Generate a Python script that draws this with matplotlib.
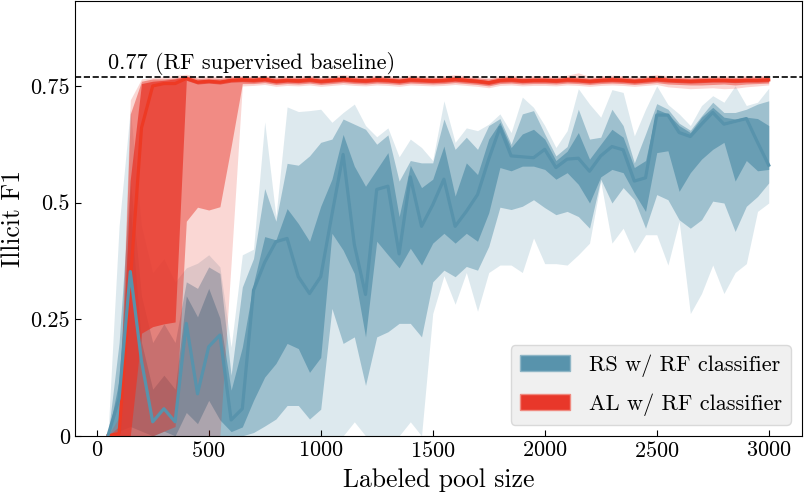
import matplotlib
matplotlib.use('Agg')
import matplotlib.pyplot as plt
from matplotlib.patches import Patch

plt.rcParams['font.family'] = 'serif'
plt.rcParams['font.serif'] = ['cmr10']
plt.rcParams['mathtext.fontset'] = 'cm'
plt.rcParams['axes.formatter.use_mathtext'] = True

# labeled pool sizes
pool_size = list(range(50, 3050, 50))

# RS w/ RF classifier: median and three quantile bands
rs_median = [0.0, 0.08, 0.352, 0.16, 0.03, 0.058, 0.03, 0.241, 0.09, 0.191, 0.216, 0.034,
             0.058, 0.312, 0.372, 0.416, 0.423, 0.341, 0.305, 0.341, 0.474, 0.603, 0.41, 0.303,
             0.528, 0.535, 0.39, 0.555, 0.449, 0.495, 0.55, 0.449, 0.481, 0.517, 0.593, 0.661,
             0.60, 0.598, 0.596, 0.614, 0.575, 0.593, 0.595, 0.567, 0.60, 0.62, 0.613, 0.546,
             0.553, 0.6875, 0.6875, 0.65, 0.6415, 0.668, 0.693, 0.668, 0.674, 0.68, 0.629, 0.58]
rs_dark_hi = [0.0, 0.12, 0.49, 0.2, 0.1, 0.13, 0.1, 0.30, 0.255, 0.316, 0.252, 0.098,
              0.19, 0.327, 0.427, 0.42, 0.487, 0.455, 0.417, 0.492, 0.55, 0.646, 0.578, 0.535,
              0.571, 0.607, 0.47, 0.58, 0.532, 0.55, 0.621, 0.514, 0.585, 0.56, 0.636, 0.672,
              0.618, 0.647, 0.657, 0.636, 0.59, 0.61, 0.65, 0.593, 0.625, 0.657, 0.64, 0.575,
              0.59, 0.70, 0.69, 0.665, 0.65, 0.683, 0.704, 0.683, 0.679, 0.683, 0.68, 0.665]
rs_dark_lo = [0.0, 0.01, 0.02, 0.01, 0.0, 0.01, 0.0, 0.05, 0.026, 0.076, 0.034, 0.009,
              0.019, 0.076, 0.126, 0.155, 0.198, 0.187, 0.136, 0.168, 0.434, 0.398, 0.348, 0.212,
              0.417, 0.388, 0.36, 0.402, 0.366, 0.413, 0.434, 0.413, 0.434, 0.417, 0.478, 0.575,
              0.568, 0.578, 0.578, 0.571, 0.55, 0.564, 0.539, 0.499, 0.555, 0.571, 0.564, 0.52,
              0.481, 0.607, 0.611, 0.524, 0.564, 0.593, 0.614, 0.629, 0.546, 0.59, 0.568, 0.571]
rs_mid_hi = [0.0, 0.2, 0.55, 0.3, 0.2, 0.24, 0.2, 0.33, 0.316, 0.362, 0.348, 0.13,
             0.319, 0.38, 0.53, 0.46, 0.584, 0.58, 0.6, 0.629, 0.636, 0.679, 0.668, 0.657,
             0.625, 0.645, 0.546, 0.59, 0.585, 0.585, 0.679, 0.614, 0.64, 0.614, 0.665, 0.68,
             0.625, 0.69, 0.697, 0.647, 0.60, 0.62, 0.70, 0.636, 0.64, 0.70, 0.665, 0.585,
             0.647, 0.712, 0.70, 0.67, 0.655, 0.686, 0.715, 0.693, 0.693, 0.70, 0.711, 0.718]
rs_mid_lo = [0.0, 0.0, 0.0, 0.0, 0.0, 0.0, 0.0, 0.0, 0.0, 0.0, 0.0, 0.0,
             0.0, 0.007, 0.021, 0.036, 0.065, 0.065, 0.036, 0.057, 0.273, 0.198, 0.212, 0.108,
             0.212, 0.223, 0.241, 0.241, 0.212, 0.33, 0.355, 0.341, 0.363, 0.355, 0.406, 0.49,
             0.485, 0.492, 0.506, 0.489, 0.474, 0.481, 0.47, 0.445, 0.55, 0.499, 0.532, 0.506,
             0.445, 0.517, 0.506, 0.463, 0.445, 0.463, 0.503, 0.499, 0.438, 0.492, 0.513, 0.542]
rs_lt_hi = [0.0, 0.45, 0.70, 0.45, 0.35, 0.38, 0.33, 0.36, 0.37, 0.388, 0.362, 0.19,
            0.388, 0.40, 0.673, 0.47, 0.705, 0.695, 0.697, 0.70, 0.672, 0.693, 0.711, 0.665,
            0.641, 0.66, 0.598, 0.636, 0.618, 0.59, 0.718, 0.629, 0.66, 0.654, 0.668, 0.69,
            0.65, 0.726, 0.704, 0.665, 0.618, 0.654, 0.744, 0.711, 0.683, 0.742, 0.736, 0.643,
            0.70, 0.75, 0.71, 0.69, 0.665, 0.708, 0.729, 0.715, 0.75, 0.708, 0.715, 0.745]
rs_lt_lo = [0.0, 0.0, 0.0, 0.0, 0.0, 0.0, 0.0, 0.0, 0.0, 0.0, 0.0, 0.0,
            0.0, 0.0, 0.0, 0.0, 0.0, 0.0, 0.0, 0.0, 0.0, 0.0, 0.03, 0.0,
            0.0, 0.0, 0.0, 0.03, 0.0, 0.262, 0.343, 0.282, 0.35, 0.267, 0.35, 0.366,
            0.366, 0.35, 0.424, 0.369, 0.369, 0.366, 0.388, 0.413, 0.545, 0.413, 0.445, 0.392,
            0.431, 0.431, 0.366, 0.46, 0.262, 0.305, 0.366, 0.305, 0.35, 0.369, 0.481, 0.499]

# AL w/ RF classifier: median and three quantile bands
al_median = [0.0, 0.005, 0.33, 0.66, 0.75, 0.755, 0.755, 0.766, 0.758, 0.76, 0.758, 0.762,
             0.763, 0.762, 0.764, 0.76, 0.762, 0.761, 0.763, 0.76, 0.762, 0.764, 0.762, 0.761,
             0.763, 0.762, 0.76, 0.763, 0.762, 0.761, 0.762, 0.764, 0.762, 0.76, 0.757, 0.762,
             0.763, 0.761, 0.762, 0.762, 0.761, 0.763, 0.762, 0.76, 0.762, 0.763, 0.762, 0.76,
             0.762, 0.764, 0.762, 0.761, 0.76, 0.761, 0.762, 0.762, 0.761, 0.762, 0.762, 0.763]
al_dark_hi = [0.0, 0.01, 0.55, 0.755, 0.76, 0.762, 0.765, 0.77, 0.762, 0.764, 0.762, 0.766,
              0.767, 0.766, 0.768, 0.764, 0.766, 0.765, 0.767, 0.764, 0.766, 0.768, 0.766, 0.765,
              0.767, 0.766, 0.764, 0.767, 0.766, 0.765, 0.766, 0.768, 0.766, 0.764, 0.761, 0.766,
              0.767, 0.765, 0.766, 0.766, 0.765, 0.767, 0.766, 0.764, 0.766, 0.767, 0.766, 0.764,
              0.766, 0.768, 0.766, 0.765, 0.764, 0.765, 0.766, 0.766, 0.765, 0.766, 0.766, 0.767]
al_dark_lo = [0.0, 0.0, 0.0, 0.22, 0.234, 0.24, 0.244, 0.762, 0.754, 0.756, 0.754, 0.758,
              0.759, 0.758, 0.76, 0.756, 0.758, 0.757, 0.759, 0.756, 0.758, 0.76, 0.758, 0.757,
              0.759, 0.758, 0.756, 0.759, 0.758, 0.757, 0.758, 0.76, 0.758, 0.756, 0.753, 0.758,
              0.759, 0.757, 0.758, 0.758, 0.757, 0.759, 0.758, 0.756, 0.758, 0.759, 0.758, 0.756,
              0.758, 0.76, 0.758, 0.757, 0.756, 0.757, 0.758, 0.758, 0.757, 0.758, 0.758, 0.759]
al_mid_hi = [0.0, 0.02, 0.69, 0.76, 0.765, 0.765, 0.767, 0.772, 0.766, 0.767, 0.766, 0.769,
             0.77, 0.769, 0.771, 0.767, 0.769, 0.768, 0.77, 0.767, 0.769, 0.771, 0.769, 0.768,
             0.77, 0.769, 0.767, 0.77, 0.769, 0.768, 0.769, 0.771, 0.769, 0.767, 0.765, 0.769,
             0.77, 0.768, 0.769, 0.769, 0.768, 0.77, 0.769, 0.767, 0.769, 0.77, 0.769, 0.767,
             0.769, 0.771, 0.769, 0.768, 0.767, 0.768, 0.769, 0.769, 0.768, 0.769, 0.769, 0.77]
al_mid_lo = [0.0, 0.0, 0.0, 0.0, 0.0, 0.01, 0.02, 0.46, 0.49, 0.484, 0.491, 0.62,
             0.755, 0.755, 0.757, 0.753, 0.755, 0.754, 0.756, 0.753, 0.755, 0.757, 0.755, 0.754,
             0.756, 0.755, 0.753, 0.756, 0.755, 0.754, 0.755, 0.757, 0.755, 0.753, 0.75, 0.755,
             0.756, 0.754, 0.755, 0.755, 0.754, 0.756, 0.755, 0.753, 0.755, 0.756, 0.755, 0.753,
             0.755, 0.757, 0.754, 0.753, 0.752, 0.752, 0.753, 0.754, 0.752, 0.754, 0.755, 0.756]
al_lt_hi = [0.0, 0.04, 0.72, 0.765, 0.768, 0.77, 0.772, 0.775, 0.77, 0.771, 0.77, 0.772,
            0.772, 0.771, 0.773, 0.77, 0.772, 0.771, 0.773, 0.77, 0.772, 0.774, 0.772, 0.771,
            0.773, 0.772, 0.77, 0.773, 0.772, 0.771, 0.772, 0.774, 0.772, 0.77, 0.768, 0.772,
            0.773, 0.771, 0.772, 0.772, 0.771, 0.773, 0.778, 0.77, 0.772, 0.773, 0.772, 0.77,
            0.772, 0.774, 0.772, 0.771, 0.77, 0.771, 0.772, 0.772, 0.771, 0.772, 0.772, 0.773]
al_lt_lo = [0.0, 0.0, 0.0, 0.0, 0.0, 0.0, 0.0, 0.0, 0.0, 0.0, 0.0, 0.37,
            0.75, 0.751, 0.753, 0.749, 0.751, 0.75, 0.752, 0.749, 0.751, 0.753, 0.751, 0.75,
            0.752, 0.751, 0.749, 0.752, 0.751, 0.75, 0.751, 0.753, 0.751, 0.749, 0.746, 0.751,
            0.752, 0.75, 0.751, 0.751, 0.75, 0.752, 0.751, 0.749, 0.751, 0.752, 0.751, 0.749,
            0.751, 0.753, 0.748, 0.746, 0.744, 0.745, 0.746, 0.744, 0.745, 0.748, 0.75, 0.752]

baseline = 0.77

blue = '#5893ac'
red = '#e8372a'
band_alphas = [0.2, 0.47, 0.75]

fig, ax = plt.subplots(figsize=(8.05, 4.93), dpi=100)
fig.subplots_adjust(left=0.093, right=0.996, bottom=0.116, top=0.998)

# blue bands first, red bands over them, blue median on top
rs_bands = [(rs_lt_lo, rs_lt_hi), (rs_mid_lo, rs_mid_hi), (rs_dark_lo, rs_dark_hi)]
for (lo, hi), a in zip(rs_bands, band_alphas):
    ax.fill_between(pool_size, lo, hi, color=blue, alpha=a, lw=0, zorder=1)

al_bands = [(al_lt_lo, al_lt_hi), (al_mid_lo, al_mid_hi), (al_dark_lo, al_dark_hi)]
for (lo, hi), a in zip(al_bands, band_alphas):
    ax.fill_between(pool_size, lo, hi, color=red, alpha=a, lw=0, zorder=2)

ax.plot(pool_size, al_median, color='#ee3a24', lw=2.3, zorder=3)
ax.plot(pool_size, rs_median, color=blue, lw=2.3, zorder=4)

ax.axhline(baseline, color='k', ls='--', lw=1.2, zorder=5)
ax.text(50, baseline + 0.003, f'{baseline} (RF supervised baseline)',
        fontsize=16, ha='left', va='bottom')

ax.set_xlim(-97.5, 3147.5)
ax.set_ylim(0, 0.932)
ax.set_xticks(range(0, 3001, 500))
ax.set_yticks([0, 0.25, 0.5, 0.75])
ax.set_yticklabels(['0', '0.25', '0.5', '0.75'])
ax.tick_params(direction='in', length=4, labelsize=16)

ax.set_xlabel('Labeled pool size', fontsize=18.5)
ax.set_ylabel('Illicit F1', fontsize=18.5)
ax.xaxis.set_label_coords(0.5, -0.074)
ax.yaxis.set_label_coords(-0.068, 0.5)

handles = [Patch(facecolor=blue, edgecolor='#8fb6c6', label='RS w/ RF classifier'),
           Patch(facecolor=red, edgecolor='#f08a80', label='AL w/ RF classifier')]
leg = ax.legend(handles=handles, loc='lower right', fontsize=16, frameon=True,
                facecolor='#f0f0f0', edgecolor='#d9d9d9', framealpha=1,
                handlelength=2.25, handletextpad=0.85, labelspacing=0.75)

plt.savefig('out.png', dpi=100)
plt.close()
